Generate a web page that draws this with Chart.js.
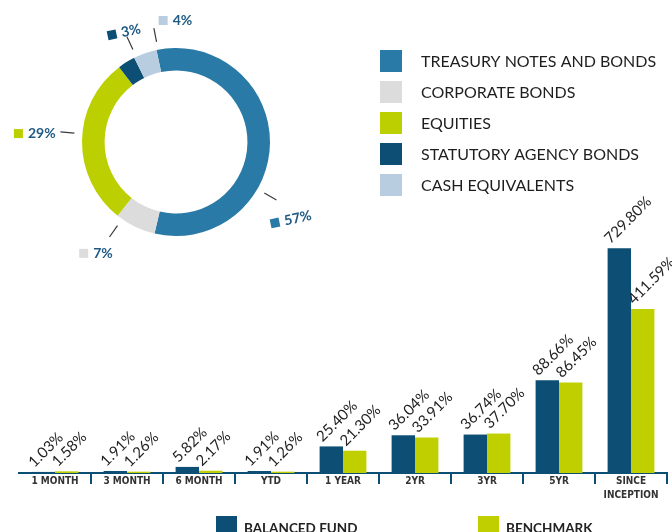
<!DOCTYPE html>
<html>
<head>
<meta charset="utf-8">
<script src="https://cdn.jsdelivr.net/npm/chart.js@4.4.1/dist/chart.umd.min.js"></script>
<style>
  html, body { margin: 0; padding: 0; background: #fff; overflow: hidden; width: 672px; height: 532px; }
  .layer { position: absolute; left: 0; top: 0; }
</style>
</head>
<body>
<canvas id="mix" class="layer" width="672" height="532"></canvas>
<canvas id="perf" class="layer" width="672" height="545"></canvas>
<script>
// asset mix
const mixLabels = ["TREASURY NOTES AND BONDS", "CORPORATE BONDS", "EQUITIES", "STATUTORY AGENCY BONDS", "CASH EQUIVALENTS"]
const mixValues = [57, 7, 29, 3, 4]
const mixColors = ["#2a7aa7", "#dcdcdc", "#bccf00", "#0c4e74", "#b8cde0"]

// performance
const periods = ["1 MONTH", "3 MONTH", "6 MONTH", "YTD", "1 YEAR", "2YR", "3YR", "5YR", ["SINCE", "INCEPTION"]]
const fundReturns = [1.03, 1.91, 5.82, 1.91, 25.40, 36.04, 36.74, 88.66, 729.80]
const benchmarkReturns = [1.58, 1.26, 2.17, 1.26, 21.30, 33.91, 37.70, 86.45, 411.59]

const FONT = "Lato, 'Open Sans', sans-serif"
const NARROW = "'Liberation Sans Narrow', 'DejaVu Sans Condensed', sans-serif"

// linear up to breakAt, compressed by ratio above it
class BreakScale extends Chart.LinearScale {
  static id = "break"

  warp(v) {
    const b = this.options.breakAt
    return v <= b ? v : b + (v - b) * this.options.ratio
  }

  unwarp(w) {
    const b = this.options.breakAt
    return w <= b ? w : b + (w - b) / this.options.ratio
  }

  getPixelForValue(value) {
    const lo = this.warp(this.min), hi = this.warp(this.max)
    return this.getPixelForDecimal((this.warp(value) - lo) / (hi - lo))
  }

  getValueForPixel(pixel) {
    const lo = this.warp(this.min), hi = this.warp(this.max)
    return this.unwarp(lo + this.getDecimalForPixel(pixel) * (hi - lo))
  }
}
Chart.register(BreakScale)

const callouts = {
  id: "callouts",
  afterDatasetsDraw(chart, args, opts) {
    const ctx = chart.ctx
    const ds = chart.data.datasets[0]
    chart.getDatasetMeta(0).data.forEach((arc, i) => {
      const c = opts.items[i]
      const { x, y, outerRadius } = arc.getProps(["x", "y", "outerRadius"], true)
      const polar = (deg, r) => {
        const a = deg * Math.PI / 180
        return [x + r * Math.sin(a), y - r * Math.cos(a)]
      }
      const [x1, y1] = polar(c.line, outerRadius + 8)
      const [x2, y2] = polar(c.line, outerRadius + 22)
      ctx.save()
      ctx.strokeStyle = "#3a3a3a"
      ctx.lineWidth = 1.2
      ctx.beginPath()
      ctx.moveTo(x1, y1)
      ctx.lineTo(x2, y2)
      ctx.stroke()

      const text = ds.data[i] + "%"
      ctx.font = "bold 14px " + FONT
      const w = 8 + 5 + ctx.measureText(text).width
      const [lx, ly] = polar(c.label, c.dist)
      ctx.translate(lx, ly)
      ctx.rotate(c.rot * Math.PI / 180)
      ctx.fillStyle = ds.backgroundColor[i]
      ctx.fillRect(-w / 2, -4, 9, 9)
      ctx.fillStyle = "#1f5a85"
      ctx.textBaseline = "middle"
      ctx.fillText(text, -w / 2 + 14, 0.5)
      ctx.restore()
    })
  }
}

const sideLegend = {
  id: "sideLegend",
  afterDraw(chart, args, opts) {
    const ctx = chart.ctx
    const ds = chart.data.datasets[0]
    ctx.save()
    chart.data.labels.forEach((label, i) => {
      const cy = opts.top + i * opts.step
      ctx.fillStyle = ds.backgroundColor[i]
      ctx.fillRect(opts.left, cy - 11, 22, 22)
      ctx.fillStyle = "#1e1e1e"
      ctx.font = "16px " + FONT
      ctx.textBaseline = "middle"
      ctx.fillText(label, opts.left + 41, cy + 1)
    })
    ctx.restore()
  }
}

new Chart(document.getElementById("mix"), {
  type: "doughnut",
  data: {
    labels: mixLabels,
    datasets: [{ data: mixValues, backgroundColor: mixColors, borderWidth: 0 }]
  },
  options: {
    responsive: false,
    animation: false,
    cutout: "76%",
    rotation: -12,
    layout: { padding: { left: 82, top: 48, right: 402, bottom: 296 } },
    plugins: {
      legend: { display: false },
      tooltip: { enabled: false },
      callouts: {
        items: [
          { line: 120, label: 124, dist: 138, rot: -12 },
          { line: 215, label: 216, dist: 137, rot: 0 },
          { line: 275, label: 273.6, dist: 142, rot: 0 },
          { line: 335, label: 334.5, dist: 122, rot: -12 },
          { line: 349, label: 359.5, dist: 122, rot: 0 }
        ]
      },
      sideLegend: { left: 380, top: 61, step: 31 }
    }
  },
  plugins: [callouts, sideLegend]
})

const valueLabels = {
  id: "valueLabels",
  afterDatasetsDraw(chart) {
    const ctx = chart.ctx
    ctx.save()
    ctx.font = "15px " + FONT
    ctx.fillStyle = "#222"
    ctx.textBaseline = "alphabetic"
    chart.data.datasets.forEach((ds, d) => {
      chart.getDatasetMeta(d).data.forEach((bar, i) => {
        ctx.save()
        ctx.translate(bar.x - bar.width / 2 + 3, bar.y - 4)
        ctx.rotate(-45 * Math.PI / 180)
        ctx.fillText(ds.data[i].toFixed(2) + "%", 0, 0)
        ctx.restore()
      })
    })
    ctx.restore()
  }
}

const barLegend = {
  id: "barLegend",
  afterDraw(chart, args, opts) {
    const ctx = chart.ctx
    ctx.save()
    chart.data.datasets.forEach((ds, i) => {
      const x = opts.xs[i]
      ctx.fillStyle = ds.backgroundColor
      ctx.fillRect(x, opts.y - 11, 21, 22)
      ctx.fillStyle = "#222"
      ctx.font = "bold 13.5px " + FONT
      ctx.textBaseline = "middle"
      ctx.fillText(ds.label, x + 28, opts.y + 2)
    })
    ctx.restore()
  }
}

new Chart(document.getElementById("perf"), {
  type: "bar",
  data: {
    labels: periods,
    datasets: [
      { label: "BALANCED FUND", data: fundReturns, backgroundColor: "#0d4f74" },
      { label: "BENCHMARK", data: benchmarkReturns, backgroundColor: "#bfcf00" }
    ]
  },
  options: {
    responsive: false,
    animation: false,
    layout: { padding: { left: 19, right: 5, top: 235, bottom: 43 } },
    datasets: { bar: { categoryPercentage: 0.65, barPercentage: 1 } },
    scales: {
      x: {
        // labels sit beside the tick marks, so give the box room below them
        afterFit: scale => { scale.height += 10 },
        grid: {
          drawOnChartArea: false,
          tickLength: 11,
          lineWidth: 2,
          offset: true,
          color: c => (c.index === 0 ? "transparent" : "#0d4f74")
        },
        border: { display: true, color: "#0d4f74", width: 2 },
        ticks: {
          color: "#333",
          padding: -10,
          maxRotation: 0,
          autoSkip: false,
          font: { family: NARROW, size: 10, weight: "bold", lineHeight: 1.4 }
        }
      },
      y: { type: "break", display: false, min: 0, max: 800, breakAt: 100, ratio: 0.182 }
    },
    plugins: {
      legend: { display: false },
      tooltip: { enabled: false },
      barLegend: { xs: [216, 478], y: 527 }
    }
  },
  plugins: [valueLabels, barLegend]
})
</script>
</body>
</html>
